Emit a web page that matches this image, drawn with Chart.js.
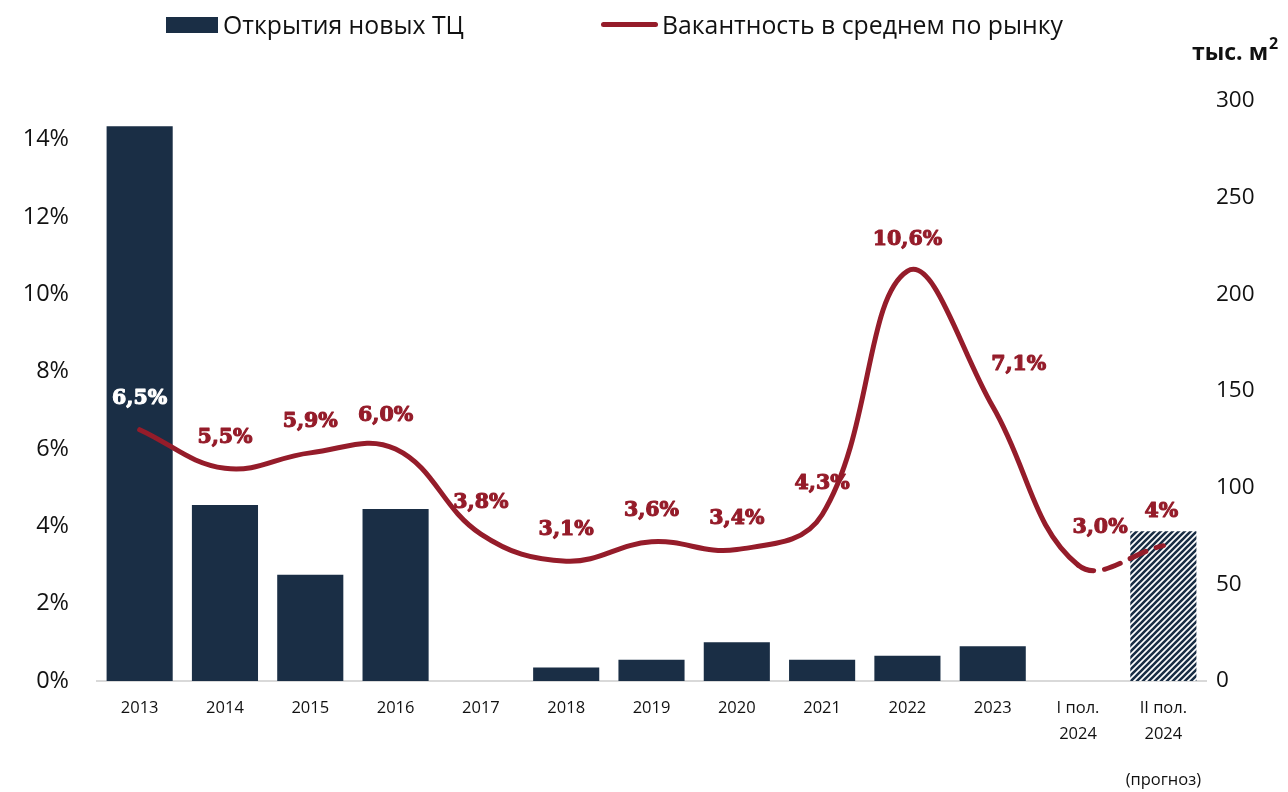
<!DOCTYPE html>
<html>
<head>
<meta charset="utf-8">
<script src="https://cdn.jsdelivr.net/npm/chart.js@4.4.1/dist/chart.umd.min.js"></script>
<style>
  html, body { margin: 0; padding: 0; background: #fff; }
  #wrap { position: relative; width: 1288px; height: 792px; }
  #c { position: absolute; left: 0; top: 0; }
  .leg { position: absolute; top: 7px; font-family: "Open Sans", sans-serif; font-size: 24.8px; color: #111; white-space: nowrap; line-height: 34px; }
  .sw { position: absolute; }
</style>
</head>
<body>
<div id="wrap">
  <canvas id="c" width="1288" height="792"></canvas>
  <div class="sw" style="left:166px;top:17px;width:52px;height:16px;background:#1a2e45"></div>
  <div class="leg" style="left:223px">Открытия новых ТЦ</div>
  <div class="sw" style="left:601px;top:22px;width:57px;height:5px;border-radius:3px;background:#951c2a"></div>
  <div class="leg" style="left:662px">Вакантность в среднем по рынку</div>
</div>
<script>
// данные
const categories = ["2013", "2014", "2015", "2016", "2017", "2018", "2019", "2020", "2021", "2022", "2023", ["I пол.", "2024"], ["II пол.", "2024"]];
const openings = [287, 91, 55, 89, 0, 7, 11, 20, 11, 13, 18, 0, 77.5]; // тыс. м2
const vacancy = [6.5, 5.5, 5.9, 6.0, 3.8, 3.1, 3.6, 3.4, 4.3, 10.6, 7.1, 3.0, 3.5]; // %
const vacancyLabels = ["6,5%", "5,5%", "5,9%", "6,0%", "3,8%", "3,1%", "3,6%", "3,4%", "4,3%", "10,6%", "7,1%", "3,0%", "4%"];
const leftTicks = [0, 2, 4, 6, 8, 10, 12, 14];
const rightTicks = [0, 50, 100, 150, 200, 250, 300];

const NAVY = "#1a2e45";
const RED = "#951c2a";

// штриховка для прогноза
function hatch() {
    const p = document.createElement("canvas");
    p.width = 6; p.height = 6;
    const g = p.getContext("2d");
    g.fillStyle = "#fff"; g.fillRect(0, 0, 6, 6);
    g.strokeStyle = NAVY; g.lineWidth = 2.6;
    g.beginPath();
    g.moveTo(-1, 7); g.lineTo(7, -1);
    g.moveTo(-4, 4); g.lineTo(4, -4);
    g.moveTo(2, 10); g.lineTo(10, 2);
    g.stroke();
    return document.getElementById("c").getContext("2d").createPattern(p, "repeat");
}
const barColors = openings.map((v, i) => i === openings.length - 1 ? hatch() : NAVY);

const labelPlugin = {
    id: "vacLabels",
    afterDatasetsDraw(chart, args, opts) {
        const ctx = chart.ctx;
        const meta = chart.getDatasetMeta(0);
        ctx.save();
        ctx.font = "bold 20.5px 'DejaVu Serif', serif";
        ctx.textAlign = "center";
        ctx.textBaseline = "middle";
        ctx.lineWidth = 1.1;
        ctx.lineJoin = "round";
        meta.data.forEach((pt, i) => {
            const n = opts.nudge[i] || [0, -31];
            ctx.fillStyle = ctx.strokeStyle = i === 0 ? "#fff" : RED;
            ctx.fillText(vacancyLabels[i], pt.x + n[0], pt.y + n[1]);
            ctx.strokeText(vacancyLabels[i], pt.x + n[0], pt.y + n[1]);
        });
        // подпись правой оси и "(прогноз)"
        ctx.fillStyle = "#111";
        ctx.font = "bold 23px 'Open Sans', sans-serif";
        ctx.textAlign = "left";
        ctx.fillText("тыс. м", 1192, 53);
        const w = ctx.measureText("тыс. м").width;
        ctx.font = "bold 16px 'Open Sans', sans-serif";
        ctx.fillText("2", 1192 + w + 1, 44);
        ctx.font = "16.5px 'Open Sans', sans-serif";
        ctx.textAlign = "center";
        const x = chart.scales.x.getPixelForValue(categories.length - 1);
        ctx.fillText("(прогноз)", x, 780);
        ctx.restore();
    }
};

new Chart(document.getElementById("c"), {
    data: {
        labels: categories,
        datasets: [
            {
                type: "line", label: "Вакантность в среднем по рынку", data: vacancy, yAxisID: "y",
                borderColor: RED, borderWidth: 5, borderCapStyle: "round", pointRadius: 0, tension: 0.4, order: 0,
                segment: { borderDash: ctx => ctx.p0DataIndex === vacancy.length - 2 ? [17, 11] : undefined }
            },
            {
                type: "bar", label: "Открытия новых ТЦ", data: openings, yAxisID: "y2",
                backgroundColor: barColors, categoryPercentage: 1, barPercentage: 0.775, order: 1
            }
        ]
    },
    options: {
        responsive: false, animation: false,
        layout: { padding: { top: 101, left: 0, right: 0, bottom: 0 } },
        plugins: {
            legend: { display: false }, tooltip: { enabled: false },
            vacLabels: { nudge: { 3: [-10, -33], 10: [26, -42], 11: [22, -37], 12: [-2, -34] } }
        },
        scales: {
            x: {
                grid: { display: false, drawTicks: false },
                border: { display: true, color: "#d9d9d9", width: 2 },
                ticks: { color: "#111", font: { family: "Open Sans", size: 16.5, lineHeight: 1.58 }, padding: 14, maxRotation: 0 },
                afterFit(s) { s.height = 111; }
            },
            y: {
                position: "left", min: 0, max: 15,
                grid: { display: false, drawTicks: false }, border: { display: false },
                afterBuildTicks(s) { s.ticks = leftTicks.map(v => ({ value: v })); },
                ticks: { color: "#111", font: { family: "Open Sans", size: 23.5 }, padding: 28, callback: v => v + "%" },
                afterFit(s) { s.width = 97; }
            },
            y2: {
                position: "right", min: 0, max: 300,
                grid: { display: false, drawTicks: false }, border: { display: false },
                afterBuildTicks(s) { s.ticks = rightTicks.map(v => ({ value: v })); },
                ticks: { color: "#111", font: { family: "Open Sans", size: 22.5 }, padding: 10 },
                afterFit(s) { s.width = 82; }
            }
        }
    },
    plugins: [labelPlugin]
});
</script>
</body>
</html>
